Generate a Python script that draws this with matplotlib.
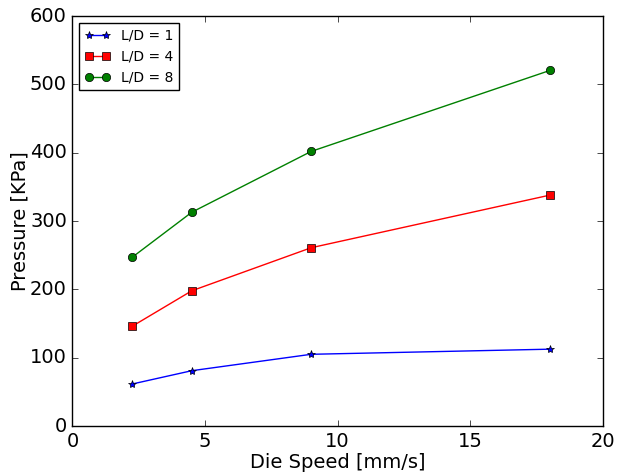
import numpy as np
import matplotlib
matplotlib.use('Agg')
import matplotlib.pyplot as plt

plt.style.use('classic')

# die speed [mm/s] and measured pressure [KPa] for each L/D ratio
speed = [2.25, 4.5, 9.0, 18.0]
p_ld1 = [61.5, 81, 105, 112.5]
p_ld4 = [146, 198, 261, 338]
p_ld8 = [247, 313, 402, 520.5]

fig = plt.figure(figsize=(6.17, 4.76), dpi=100, facecolor='white')
ax = fig.add_axes([0.1175, 0.105, 0.8595, 0.861])

ax.plot(speed, p_ld1, 'b*-', markersize=6, label='L/D = 1')
ax.plot(speed, p_ld4, 'rs-', markersize=6, label='L/D = 4')
ax.plot(speed, p_ld8, 'go-', markersize=6, label='L/D = 8')

ax.set_xlim(0, 20)
ax.set_ylim(0, 600)
ax.set_xlabel('Die Speed [mm/s]', fontsize=14, labelpad=2)
ax.set_ylabel('Pressure [KPa]', fontsize=14, labelpad=0)
ax.tick_params(labelsize=14)
ax.legend(loc='upper left', fontsize=10, numpoints=2, handlelength=1.8)

fig.savefig('out.png', dpi=100, facecolor='white')
